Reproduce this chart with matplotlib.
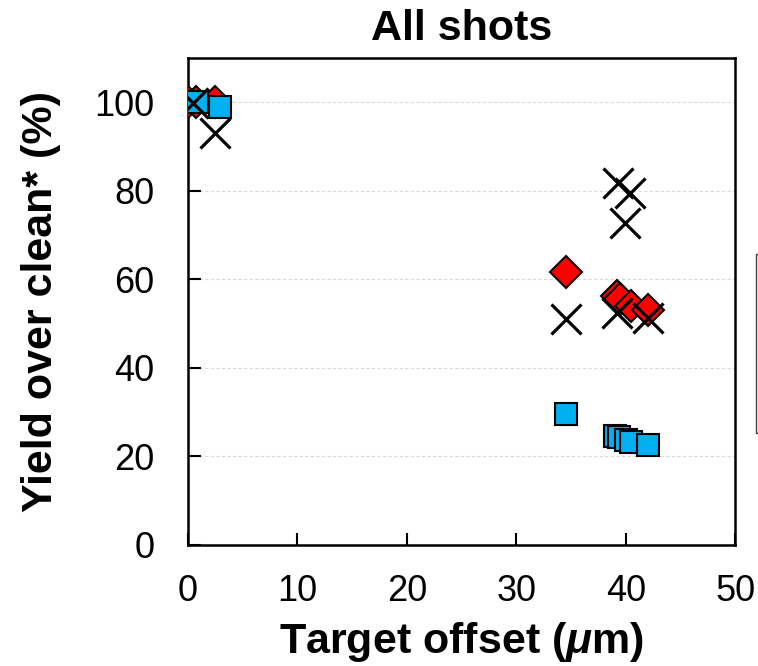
import matplotlib
matplotlib.use("Agg")
import matplotlib.pyplot as plt
from matplotlib.patches import Rectangle

plt.rcParams['font.family'] = ['Liberation Sans', 'DejaVu Sans']
plt.rcParams['mathtext.fontset'] = 'custom'
plt.rcParams['mathtext.it'] = 'Liberation Sans:italic:bold'
plt.rcParams['mathtext.rm'] = 'Liberation Sans:bold'

# red diamonds
red_x = [0.0, 0.7, 2.5, 34.5, 39.2, 39.5, 40.5, 42.0]
red_y = [100, 100, 100, 61.7, 56.2, 55.5, 54.0, 53.0]

# blue squares
blue_x = [0.0, 0.8, 2.9, 34.5, 39.0, 39.4, 40.0, 40.5, 42.0]
blue_y = [100, 100, 98.9, 29.6, 24.6, 24.4, 23.8, 23.3, 22.6]

# black crosses
cross_x = [0.5, 2.5, 34.5, 39.2, 39.3, 39.9, 40.4, 42.0]
cross_y = [99.8, 93.0, 51.0, 52.4, 81.7, 72.7, 79.5, 51.3]

xticks = [0, 10, 20, 30, 40, 50]
yticks = [0, 20, 40, 60, 80, 100]

fig = plt.figure(figsize=(7.58, 6.66), dpi=100)
ax = fig.add_axes([0.248, 0.1817, 0.722, 0.7313])

for y in yticks[1:]:
    ax.axhline(y, color='#d9d9d9', lw=0.8, ls=(0, (3, 2)), zorder=0)

ax.plot(red_x, red_y, 'D', ms=16, mfc='#ff0000', mec='black', mew=1.5, ls='none', zorder=3)
ax.plot(blue_x, blue_y, 's', ms=16, mfc='#00b0f0', mec='black', mew=1.5, ls='none', zorder=4)
ax.plot(cross_x, cross_y, 'x', ms=21, color='black', mew=2.3, ls='none', zorder=5)

ax.set_xlim(0, 50)
ax.set_ylim(0, 110)
ax.set_xticks(xticks)
ax.set_yticks(yticks)
ax.tick_params(axis='x', direction='in', length=9, width=1.5, labelsize=26, pad=21)
ax.tick_params(axis='y', direction='in', length=9, width=1.5, labelsize=26, pad=24)
for s in ax.spines.values():
    s.set_linewidth(1.8)

ax.set_title('All shots', fontsize=31, fontweight='bold', pad=13)
ax.set_xlabel('Target offset ($\\mu$m)', fontsize=31, fontweight='bold', labelpad=8)
ax.set_ylabel('Yield over clean* (%)', fontsize=31, fontweight='bold', labelpad=24)

# legend box, mostly outside the picture
fig.patches.append(Rectangle((756 / 758, 1 - 433 / 666), 0.2, 179 / 666,
                             transform=fig.transFigure, fill=False,
                             ec='#404040', lw=1.0, clip_on=False))

fig.savefig('out.png', dpi=100)
